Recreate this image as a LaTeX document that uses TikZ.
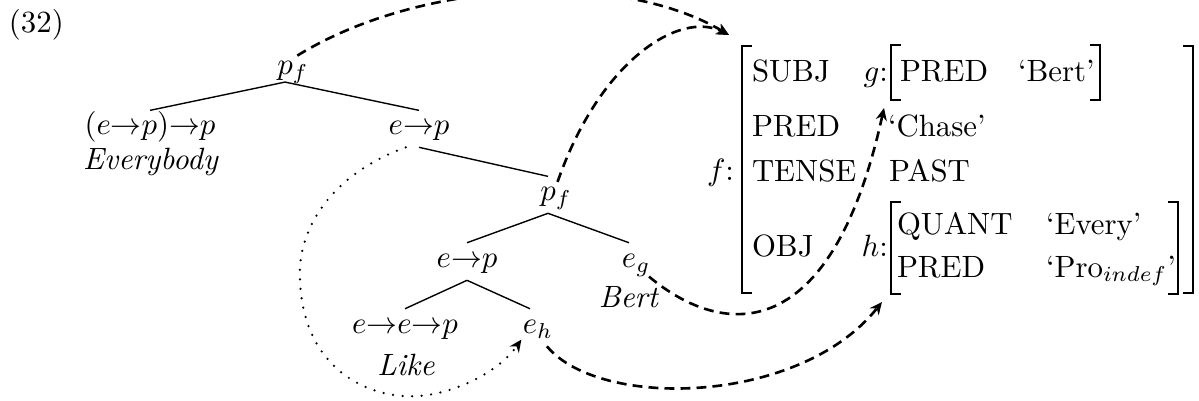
\documentclass[tikz,border=0pt]{standalone}
\usetikzlibrary{arrows.meta}
\begin{document}
\begin{tikzpicture}[x=0.3247pt, y=-0.3247pt,
  tnode/.style={inner sep=0pt, outer sep=0pt, anchor=base},
  avm/.style={inner sep=0pt, outer sep=0pt, anchor=base west},
  avmr/.style={inner sep=0pt, outer sep=0pt, anchor=base east},
  tline/.style={line width=0.45pt},
  brk/.style={line width=0.7pt},
  link/.style={line width=0.85pt, dash pattern=on 3.2pt off 2pt, -{Stealth[length=4pt,width=3.6pt]}},
  dotlink/.style={line width=0.8pt, line cap=round, dash pattern=on 0pt off 3.1pt, -{Stealth[length=4pt,width=3.6pt]}}
]
\useasboundingbox (0,0) rectangle (1199,401);

% example number
\node[avm] (num) at (9,33) {(32)};

% tree
\node[tnode] (pf1) at (285,75) {$p\rlap{$_f$}$};
\node[tnode] (n1) at (150,135) {$(e{\rightarrow}p){\rightarrow}p$};
\node[tnode] (ev) at (151,170) {\textit{Everybody}};
\node[tnode] (n2) at (419,135) {$e{\rightarrow}p$};
\node[tnode] (pf2) at (548,201) {$p\rlap{$_f$}$};
\node[tnode] (n3) at (467,268) {$e{\rightarrow}p$};
\node[tnode] (eg) at (629,268) {$e\rlap{$_g$}$};
\node[tnode] (bert) at (629,308) {\textit{Bert}};
\node[tnode] (n4) at (405,334) {$e{\rightarrow}e{\rightarrow}p$};
\node[tnode] (eh) at (530,334) {$e\rlap{$_h$}$};
\node[tnode] (like) at (406,375) {\textit{Like}};

\draw[tline] ([yshift=-2.3pt]pf1.base) -- ([yshift=8pt]n1.base);
\draw[tline] ([yshift=-2.3pt]pf1.base) -- ([yshift=8pt]n2.base);
\draw[tline] ([yshift=-4pt]n2.base) -- ([yshift=8pt]pf2.base);
\draw[tline] ([yshift=-4pt]pf2.base) -- ([yshift=8.2pt]n3.base);
\draw[tline] ([yshift=-4pt]pf2.base) -- ([yshift=8.2pt]eg.base);
\draw[tline] ([yshift=-4pt]n3.base) -- ([yshift=8.2pt]n4.base);
\draw[tline] ([yshift=-4pt]n3.base) -- ([yshift=8.2pt]eh.base);

% f-structure
\node[avmr] (flab) at (734,181) {$f$:};
\node[avm] (subj) at (752,82) {SUBJ};
\node[avmr] (glab) at (888,82) {$g$:};
\node[avm] (gpred) at (900,82) {PRED};
\node[avm] (gbert) at (1018,82) {`Bert'};
\node[avm] (pred) at (752,137) {PRED};
\node[avm] (chase) at (888,137) {`Chase'};
\node[avm] (tense) at (752,182) {TENSE};
\node[avm] (past) at (889,182) {PAST};
\node[avm] (obj) at (752,257) {OBJ};
\node[avmr] (hlab) at (888,257) {$h$:};
\node[avm] (quant) at (897,235) {QUANT};
\node[avm] (every) at (1046,235) {`Every'};
\node[avm] (hpred) at (897,277) {PRED};
\node[avm] (pro) at (1046,277) {`Pro$_{indef}$'};

% brackets
\draw[brk] (752,46) -- (742,46) -- (742,293) -- (752,293);
\draw[brk] (1183,46) -- (1193,46) -- (1193,293) -- (1183,293);
\draw[brk] (901,45) -- (891,45) -- (891,100) -- (901,100);
\draw[brk] (1090,45) -- (1100,45) -- (1100,100) -- (1090,100);
\draw[brk] (901,202) -- (891,202) -- (891,294) -- (901,294);
\draw[brk] (1168,202) -- (1178,202) -- (1178,294) -- (1168,294);

\coordinate (ftip) at (729,35);
\coordinate (gtip) at (884,108);
\coordinate (htip) at (882,302);

% links
\draw[link] ([xshift=4pt,yshift=6.3pt]pf1.base) .. controls (420,-20) and (620,-30) .. (ftip);
\draw[link] ([xshift=3.1pt,yshift=6.2pt]pf2.base) .. controls (600,60) and (680,10) .. (ftip);
\draw[link] ([xshift=6.5pt,yshift=-2.8pt]eg.base) .. controls (725,340) and (832,345) .. (gtip);
\draw[link] ([xshift=5.5pt,yshift=-4pt]eh.base) .. controls (600,410) and (800,405) .. (htip);
\draw[dotlink] ([xshift=-4.3pt,yshift=-4pt]n2.base) .. controls (330,175) and (297,230) .. (300,280)
   .. controls (303,370) and (370,400) .. (420,396)
   .. controls (460,392) and (500,370) .. ([xshift=-2.8pt,yshift=-1.8pt]eh.base);
\end{tikzpicture}
\end{document}
